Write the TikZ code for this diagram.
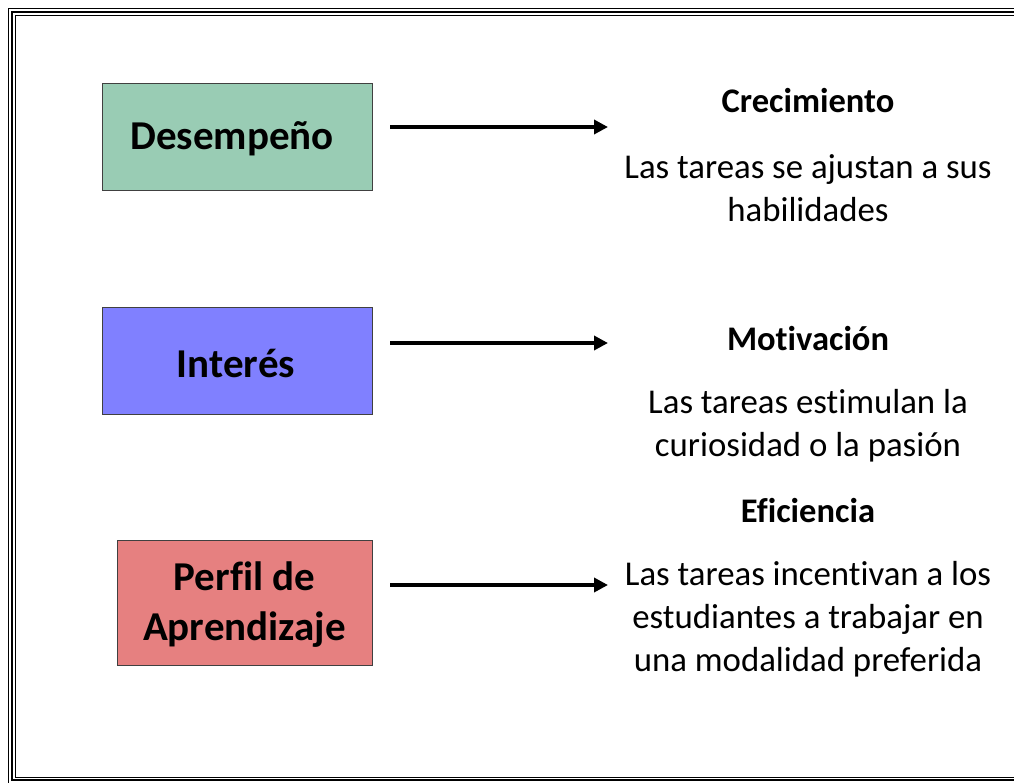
\documentclass[tikz,border=0pt]{standalone}
\usepackage{fontspec}
\setmainfont[Ligatures=NoCommon]{Carlito}
\usetikzlibrary{arrows.meta}
\definecolor{verde}{RGB}{153,204,180}
\definecolor{azul}{RGB}{128,128,255}
\definecolor{rojo}{RGB}{230,128,128}

\begin{document}
\begin{tikzpicture}[x=1pt,y=-1pt,
    caja/.style={draw=black!75, line width=1pt, align=center, font=\fontsize{41}{50}\selectfont\bfseries},
    titulo/.style={font=\fontsize{34.5}{43}\selectfont\bfseries},
    texto/.style={align=center, font=\fontsize{34.8}{43}\selectfont},
    flecha/.style={line width=3.5pt, -{Triangle[length=14pt,width=14pt]}}]
        \clip (0,0) rectangle (1014,782);
        \useasboundingbox (0,0) rectangle (1014,782);
        \draw[black, line width=0.8pt] (8,8) rectangle (1022,784);
        \draw[black, line width=2pt] (11.5,11.5) rectangle (1018.5,780);
        \draw[black, line width=0.8pt] (15,15) rectangle (1015,777);
        \node[caja, fill=verde, minimum width=270pt, minimum height=107pt] (des) at (237,136.5) {};
        \node[caja, fill=azul, minimum width=270pt, minimum height=107pt] (int) at (237,360.5) {};
        \node[caja, fill=rojo, minimum width=255pt, minimum height=125pt] (per) at (244.5,602.5) {};
        \node[caja, draw=none] (dest) at (232,139) {Desempeño};
        \node[caja, draw=none] (intt) at (236,363) {Interés};
        \node[caja, draw=none] (pert) at (244.5,605) {Perfil de\\Aprendizaje};
        \node[titulo] (cre) at (808,101) {Crecimiento};
        \node[texto] (cret) at (808,188.5) {Las tareas se ajustan a sus\\habilidades};
        \node[titulo] (mot) at (808,339) {Motivación};
        \node[texto] (mott) at (808,426) {Las tareas estimulan la\\curiosidad o la pasión};
        \node[titulo] (efi) at (808,511) {Eficiencia};
        \node[texto] (efit) at (808,619) {Las tareas incentivan a los\\estudiantes a trabajar en\\una modalidad preferida};
        \coordinate (d1) at (390,127);
        \coordinate (d2) at (608,127);
        \coordinate (i1) at (390,343);
        \coordinate (i2) at (608,343);
        \coordinate (p1) at (390,585);
        \coordinate (p2) at (608,585);
        \draw[flecha] (d1) -- (d2);
        \draw[flecha] (i1) -- (i2);
        \draw[flecha] (p1) -- (p2);
    \end{tikzpicture}
\end{document}
